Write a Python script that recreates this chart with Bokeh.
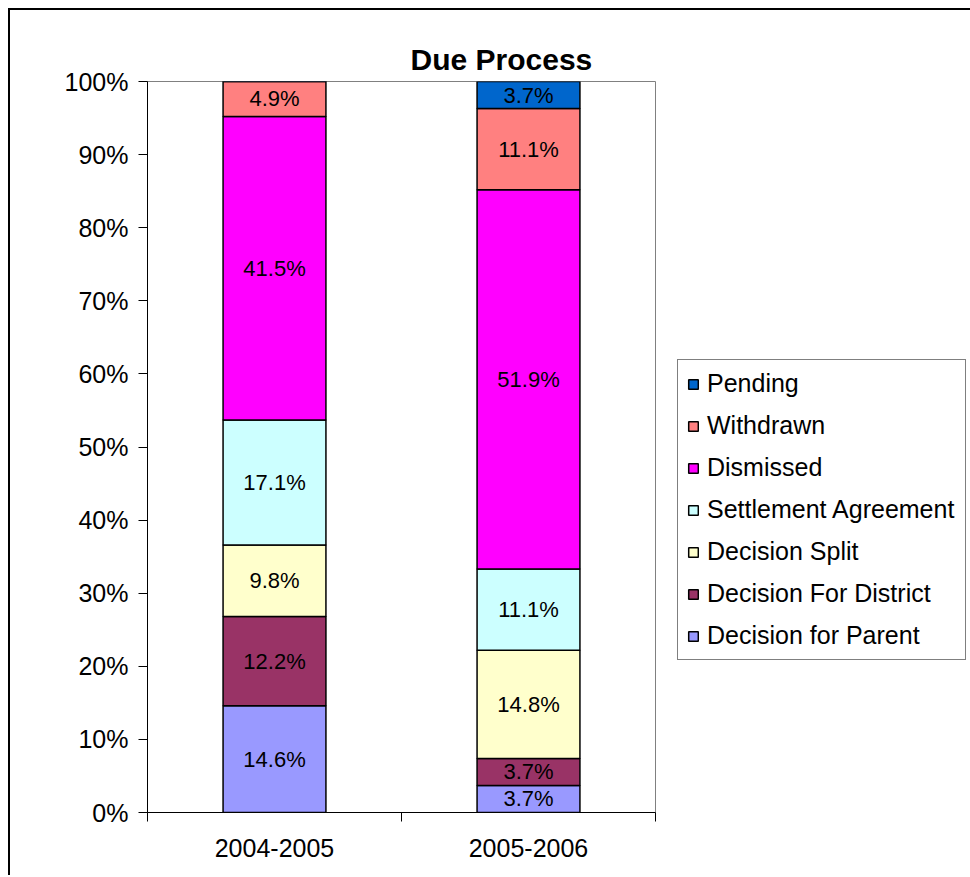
from bokeh.plotting import figure
from bokeh.models import (ColumnDataSource, FixedTicker, Legend, LegendItem,
                          PrintfTickFormatter)
from bokeh.core.properties import value
from bokeh.embed import file_html
from bokeh.resources import INLINE

# ---- data ----
periods = ["2004-2005", "2005-2006"]
categories = ["Decision for Parent", "Decision For District", "Decision Split",
              "Settlement Agreement", "Dismissed", "Withdrawn", "Pending"]
decision_for_parent = [14.6, 3.7]
decision_for_district = [12.2, 3.7]
decision_split = [9.8, 14.8]
settlement_agreement = [17.1, 11.1]
dismissed = [41.5, 51.9]
withdrawn = [4.9, 11.1]
pending = [0.0, 3.7]
y_ticks = [0, 10, 20, 30, 40, 50, 60, 70, 80, 90, 100]

series = [decision_for_parent, decision_for_district, decision_split,
          settlement_agreement, dismissed, withdrawn, pending]
colors = ["#9999FF", "#993366", "#FFFFCC", "#CCFFFF", "#FF00FF", "#FF8080", "#0066CC"]

FONT = "Liberation Sans"

xpos = [i + 0.5 for i in range(len(periods))]
data = {"x": xpos}
for name, vals in zip(categories, series):
    data[name] = vals
src = ColumnDataSource(data)

p = figure(output_backend="svg", toolbar_location=None,
           frame_width=508, frame_height=731,
           min_border_left=137, min_border_right=315,
           min_border_top=71, min_border_bottom=63,
           x_range=(0, len(periods)), y_range=(0, 100),
           background_fill_color="white", border_fill_color="white")

renderers = p.vbar_stack(categories, x="x", width=0.405, source=src,
                         fill_color=colors, line_color="black", line_width=1.5)

# value labels
lx, ly, lt = [], [], []
for j, xv in enumerate(xpos):
    base = 0.0
    for vals in series:
        v = vals[j]
        if v > 0:
            lx.append(xv)
            ly.append(base + v / 2)
            lt.append(f"{v:.1f}%")
        base += v
p.text(x=lx, y=ly, text=lt, text_align="center", text_baseline="middle",
       text_font=value(FONT), text_font_size="22px", text_color="black")

# title
p.title.text = "Due Process"
p.title.align = "left"
p.title.offset = 263
p.title.text_font = FONT
p.title.text_font_size = "30px"
p.title.text_font_style = "bold"
p.title.text_color = "black"
p.title.standoff = 12

# axes
p.xgrid.grid_line_color = None
p.ygrid.grid_line_color = None
p.outline_line_color = "#808080"
p.outline_line_width = 1

p.yaxis.ticker = FixedTicker(ticks=y_ticks)
p.yaxis.formatter = PrintfTickFormatter(format="%d%%")
p.yaxis.major_tick_out = 9
p.yaxis.major_tick_in = 0
p.yaxis.minor_tick_out = 0
p.yaxis.minor_tick_in = 0
p.yaxis.major_label_standoff = 10
p.yaxis.major_label_text_font = FONT
p.yaxis.major_label_text_font_size = "25px"
p.yaxis.major_label_text_color = "black"
p.yaxis.axis_line_color = "black"
p.yaxis.major_tick_line_color = "black"

p.xaxis.ticker = FixedTicker(ticks=xpos, minor_ticks=list(range(len(periods) + 1)))
p.xaxis.major_label_overrides = {xv: lab for xv, lab in zip(xpos, periods)}
p.xaxis.major_tick_out = 0
p.xaxis.major_tick_in = 0
p.xaxis.minor_tick_out = 9
p.xaxis.minor_tick_in = 0
p.xaxis.major_label_standoff = 17
p.xaxis.major_label_text_font = FONT
p.xaxis.major_label_text_font_size = "25px"
p.xaxis.major_label_text_color = "black"
p.xaxis.axis_line_color = "black"
p.xaxis.minor_tick_line_color = "black"

# legend (top item = last stacked series)
items = [LegendItem(label=name, renderers=[r]) for name, r in zip(categories, renderers)]
items = items[::-1]
legend = Legend(items=items, location=(22, 152),
                label_text_font=FONT, label_text_font_size="25px",
                label_text_color="black",
                glyph_width=12, glyph_height=12, label_height=28, label_width=249,
                label_standoff=8, spacing=13, padding=9,
                border_line_color="black", border_line_width=1,
                background_fill_color="white", background_fill_alpha=1.0)
p.add_layout(legend, "right")

p.styles = {"margin-left": "8px", "margin-top": "8px",
            "border-left": "2px solid black", "border-top": "2px solid black"}

open("out.html", "w").write(file_html(p, INLINE))
